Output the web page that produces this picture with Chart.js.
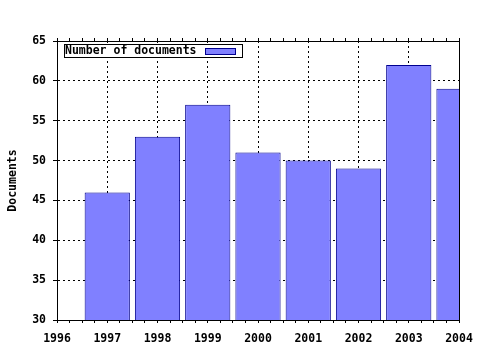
<!DOCTYPE html>
<html>
<head>
<meta charset="utf-8">
<script src="https://cdn.jsdelivr.net/npm/chart.js@4/dist/chart.umd.min.js"></script>
<style>html, body { margin: 0; padding: 0; background: #fff; }</style>
</head>
<body>
<canvas id="graf" width="480" height="350"></canvas>
<script>
// data
const years = [1997, 1998, 1999, 2000, 2001, 2002, 2003, 2004];
const documents = [46, 53, 57, 51, 50, 49, 62, 59];
const xRange = [1996, 2004];
const yRange = [30, 65];
const seriesLabel = 'Number of documents';
const yTitle = 'Documents';

const FONT = 'DejaVu Sans Mono';
Chart.defaults.font = { family: FONT, size: 11.5, weight: 'bold' };
Chart.defaults.color = '#000';

// legend drawn inside the plot, text first then the swatch
const plotLegend = {
    id: 'plotLegend',
    afterDraw(chart) {
        const ctx = chart.ctx;
        const a = chart.chartArea;
        const ds = chart.data.datasets[0];
        const x = a.left + 7, y = a.top + 3;
        ctx.save();
        ctx.fillStyle = '#fff';
        ctx.fillRect(x, y, 179, 14);
        ctx.strokeStyle = '#000';
        ctx.lineWidth = 1;
        ctx.strokeRect(x + 0.5, y + 0.5, 178, 13);
        ctx.font = 'bold 11.5px "' + FONT + '"';
        ctx.fillStyle = '#000';
        ctx.textBaseline = 'middle';
        ctx.fillText(ds.label, x + 1, y + 7.5);
        ctx.fillStyle = ds.backgroundColor;
        ctx.fillRect(x + 141, y + 4, 30, 6);
        ctx.strokeStyle = ds.borderColor;
        ctx.strokeRect(x + 141.5, y + 4.5, 30, 6);
        ctx.restore();
    }
};

const isYear = v => Number.isInteger(v);

new Chart(document.getElementById('graf').getContext('2d'), {
    type: 'bar',
    data: {
        datasets: [{
            label: seriesLabel,
            data: years.map((y, i) => ({ x: y, y: documents[i] })),
            backgroundColor: '#8080ff',
            borderColor: '#00008f',
            borderWidth: 1,
            xAxisID: 'xb',
            yAxisID: 'y',
            categoryPercentage: 1,
            barPercentage: 0.9,
            clip: 0
        }]
    },
    options: {
        responsive: false,
        animation: false,
        devicePixelRatio: 1,
        layout: { padding: 0 },
        plugins: {
            legend: { display: false },
            tooltip: { enabled: false }
        },
        scales: {
            xb: {
                axis: 'x', type: 'linear', display: false, offset: false,
                min: xRange[0], max: xRange[1],
                ticks: { stepSize: 1 },
                grid: { offset: false }
            },
            x: {
                axis: 'x', type: 'linear', position: 'bottom', offset: false,
                min: xRange[0], max: xRange[1],
                afterFit: s => { s.height = 30; s.paddingLeft = 0; s.paddingRight = 0; },
                border: { color: '#000', width: 1, dash: [2, 3] },
                grid: {
                    offset: false,
                    color: c => isYear(c.tick.value) ? '#000' : 'rgba(0,0,0,0)',
                    tickColor: '#000',
                    tickLength: 3
                },
                ticks: {
                    stepSize: 0.25, autoSkip: false, maxRotation: 0, minRotation: 0,
                    padding: 9,
                    callback: v => isYear(v) ? String(v) : ''
                }
            },
            x2: {
                axis: 'x', type: 'linear', position: 'top', offset: false,
                min: xRange[0], max: xRange[1],
                afterFit: s => { s.height = 41; },
                border: { color: '#000', width: 1 },
                grid: { offset: false, drawOnChartArea: false, tickColor: '#000', tickLength: 3 },
                ticks: { stepSize: 0.25, autoSkip: false, maxRotation: 0, display: false }
            },
            y: {
                type: 'linear', position: 'left', beginAtZero: false,
                min: yRange[0], max: yRange[1],
                afterFit: s => { s.width = 57; },
                border: { color: '#000', width: 1, dash: [2, 3] },
                grid: { color: '#000', tickColor: '#000', tickLength: 4 },
                ticks: { stepSize: 5, padding: 7 },
                title: { display: true, text: yTitle, padding: { top: 6, bottom: 0 } }
            },
            y2: {
                type: 'linear', position: 'right', beginAtZero: false,
                min: yRange[0], max: yRange[1],
                afterFit: s => { s.width = 21; },
                border: { color: '#000', width: 1 },
                grid: { drawOnChartArea: false, drawTicks: false },
                ticks: { display: false }
            }
        }
    },
    plugins: [plotLegend]
});
</script>
</body>
</html>
